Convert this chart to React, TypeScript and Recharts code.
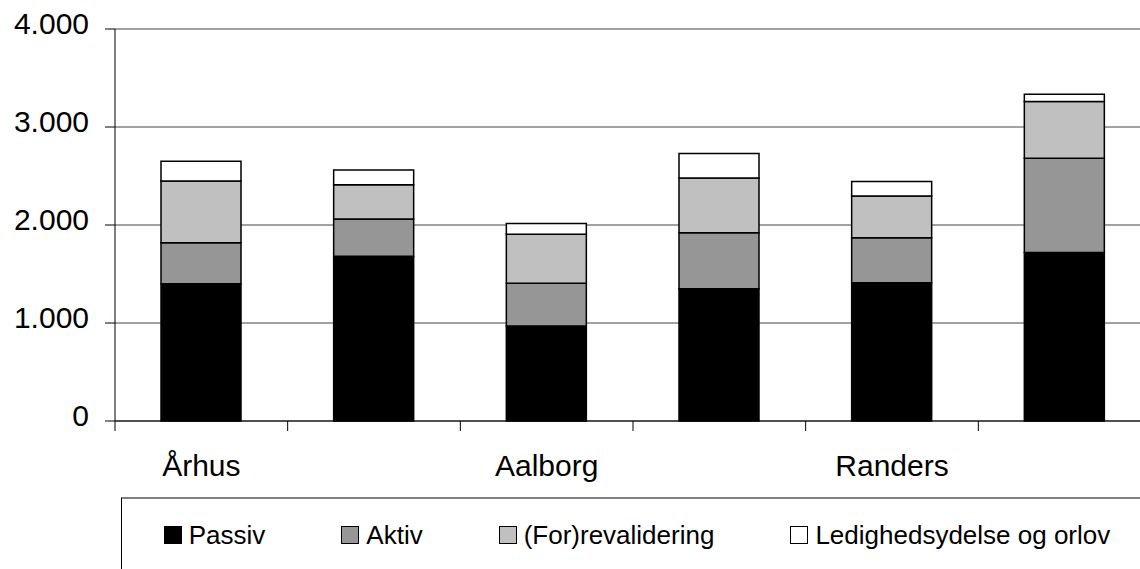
import { BarChart, Bar, XAxis, YAxis, CartesianGrid } from 'recharts';

const cities = ['Århus', '', 'Aalborg', '', 'Randers', ''];
const passiv = [1400, 1680, 970, 1350, 1410, 1720];
const aktiv = [420, 380, 435, 570, 460, 960];
const revalidering = [630, 350, 500, 560, 425, 580];
const ledighed = [200, 150, 110, 250, 150, 75];
const yTicks = [0, 1000, 2000, 3000, 4000];

const series = [
  { key: 'passiv', name: 'Passiv', fill: '#000000' },
  { key: 'aktiv', name: 'Aktiv', fill: '#969696' },
  { key: 'revalidering', name: '(For)revalidering', fill: '#c0c0c0' },
  { key: 'ledighed', name: 'Ledighedsydelse og orlov', fill: '#ffffff' },
];

const data = cities.map((city, i) => ({
  idx: i,
  city,
  passiv: passiv[i],
  aktiv: aktiv[i],
  revalidering: revalidering[i],
  ledighed: ledighed[i],
}));

const font = '"Liberation Sans", Arial, sans-serif';

const fmt = (v: number) => String(v).replace(/\B(?=(\d{3})+(?!\d))/g, '.');

const YTick = ({ x, y, payload }: any) => (
  <text x={x} y={y} dy={5} textAnchor="end" fontSize={30} fontFamily={font} fill="#000">
    {fmt(payload.value)}
  </text>
);

// label in the middle of the band, tick mark on the band's left edge
const CityTick = ({ x, y, payload }: any) => {
  const edge = x - (payload.offset ?? 0);
  return (
    <g>
      <line x1={edge} x2={edge} y1={y} y2={y + 10} stroke="#000" strokeWidth={1} />
      <text x={x} y={y} dy={55} textAnchor="middle" fontSize={30} fontFamily={font} fill="#000">
        {cities[payload.value]}
      </text>
    </g>
  );
};

export default function App() {
  return (
    <div style={{ position: 'absolute', left: 0, top: 0, width: 1140, height: 569, overflow: 'hidden', background: '#fff' }}>
      <BarChart
        width={1152}
        height={569}
        data={data}
        margin={{ top: 29, right: 1, bottom: 88, left: 0 }}
        barSize={80}
      >
        <CartesianGrid vertical={false} stroke="#444" strokeWidth={1} />
        <XAxis
          dataKey="idx"
          type="category"
          height={60}
          stroke="#000"
          tickLine={false}
          tickSize={0}
          tickMargin={0}
          interval={0}
          tick={<CityTick />}
        />
        <YAxis
          width={115}
          domain={[0, 4000]}
          ticks={yTicks}
          tickSize={10}
          tickMargin={16}
          stroke="#000"
          tickLine={{ stroke: '#000' }}
          tick={<YTick />}
        />
        {series.map((s) => (
          <Bar
            key={s.key}
            dataKey={s.key}
            name={s.name}
            stackId="a"
            fill={s.fill}
            stroke="#000"
            strokeWidth={1.5}
            isAnimationActive={false}
          />
        ))}
      </BarChart>
      <div
        style={{
          position: 'absolute',
          left: 121,
          top: 497,
          width: 1030,
          height: 72,
          borderTop: '2px solid #808080',
          borderLeft: '1px solid #000',
          display: 'flex',
          alignItems: 'center',
          justifyContent: 'center',
          gap: 76,
          fontFamily: font,
          fontSize: 26,
          color: '#000',
        }}
      >
        {series.map((s) => (
          <div key={s.key} style={{ display: 'flex', alignItems: 'center' }}>
            <span
              style={{
                width: 18,
                height: 18,
                boxSizing: 'border-box',
                border: '1.5px solid #000',
                background: s.fill,
                marginRight: 7,
              }}
            />
            <span style={{ lineHeight: 1 }}>{s.name}</span>
          </div>
        ))}
      </div>
    </div>
  );
}
